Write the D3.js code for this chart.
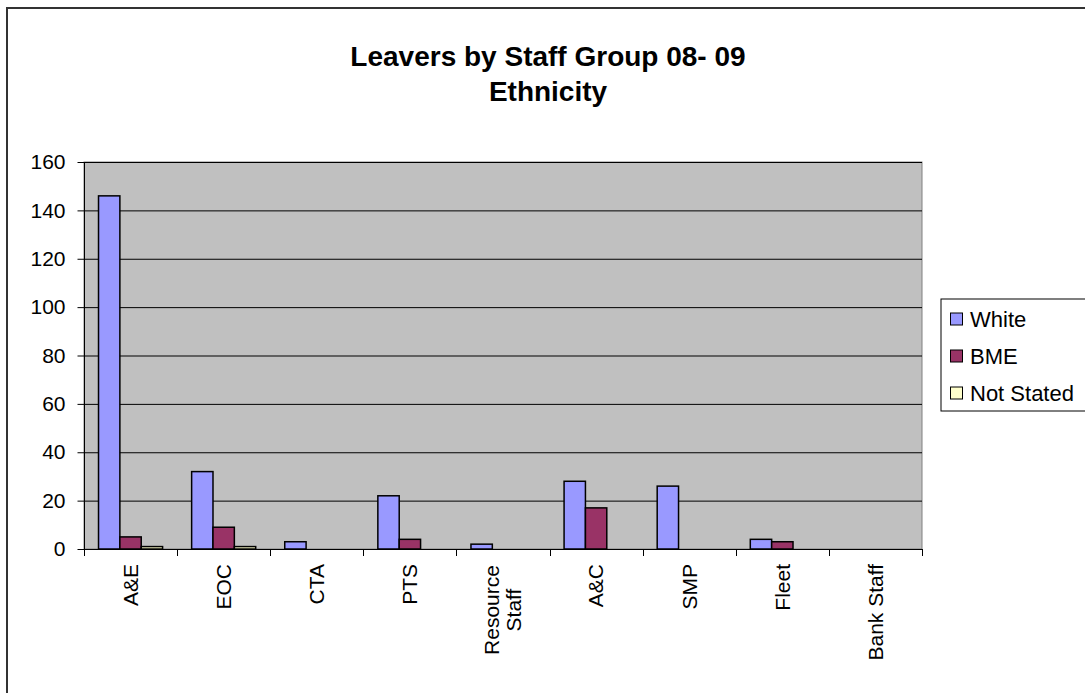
<!DOCTYPE html>
<html>
<head>
<meta charset="utf-8">
<script src="https://cdn.jsdelivr.net/npm/d3@7"></script>
<style>
  body { margin: 0; background: #fff; }
  svg { display: block; font-family: "Liberation Sans", Arial, sans-serif; }
</style>
</head>
<body>
<svg id="chart" width="1085" height="693"></svg>
<script>
// chart data
const categories = ["A&E", "EOC", "CTA", "PTS", "Resource Staff", "A&C", "SMP", "Fleet", "Bank Staff"];
const seriesNames = ["White", "BME", "Not Stated"];
const white = [146, 32, 3, 22, 2, 28, 26, 4, 0];
const bme = [5, 9, 0, 4, 0, 17, 0, 3, 0];
const notStated = [1, 1, 0, 0, 0, 0, 0, 0, 0];
const colors = ["#9999FF", "#993366", "#FFFFCC"];
const yTicks = [0, 20, 40, 60, 80, 100, 120, 140, 160];

const svg = d3.select("#chart");

// outer chart border (runs off the right/bottom edge)
svg.append("rect")
    .attr("x", 7).attr("y", 8)
    .attr("width", 1100).attr("height", 700)
    .attr("fill", "#fff")
    .attr("stroke", "#333").attr("stroke-width", 2);

// title
svg.append("text")
    .attr("x", 548).attr("y", 66)
    .attr("text-anchor", "middle")
    .attr("font-weight", "bold").attr("font-size", 28)
    .text("Leavers by Staff Group 08- 09");
svg.append("text")
    .attr("x", 548).attr("y", 101)
    .attr("text-anchor", "middle")
    .attr("font-weight", "bold").attr("font-size", 28)
    .text("Ethnicity");

// plot area
const plotL = 84, plotR = 922, plotT = 162, plotB = 549;

const x0 = d3.scaleBand().domain(categories).range([plotL, plotR]);
const x1 = d3.scaleBand().domain(seriesNames)
    .range([0, x0.bandwidth()])
    .paddingOuter(0.68);
const y = d3.scaleLinear().domain([0, 160]).range([plotB, plotT]);

svg.append("rect")
    .attr("x", plotL).attr("y", plotT)
    .attr("width", plotR - plotL).attr("height", plotB - plotT)
    .attr("fill", "#C0C0C0")
    .attr("stroke", "#808080");

// gridlines
svg.append("g")
    .selectAll("line")
    .data(yTicks.filter(d => d > 0))
    .join("line")
    .attr("x1", plotL).attr("x2", plotR)
    .attr("y1", d => y(d) + 0.5).attr("y2", d => y(d) + 0.5)
    .attr("stroke", "#000");

// bars
const rows = categories.map((c, i) => ({
    cat: c,
    vals: [white[i], bme[i], notStated[i]]
}));

const groups = svg.append("g")
    .selectAll("g")
    .data(rows)
    .join("g")
    .attr("transform", d => `translate(${x0(d.cat)},0)`);

groups.selectAll("rect")
    .data(d => d.vals.map((v, k) => ({ name: seriesNames[k], v: v, k: k })).filter(e => e.v > 0))
    .join("rect")
    .attr("x", d => x1(d.name))
    .attr("width", x1.bandwidth())
    .attr("y", d => y(d.v))
    .attr("height", d => y(0) - y(d.v))
    .attr("fill", d => colors[d.k])
    .attr("stroke", "#000")
    .attr("stroke-width", 1.5);

// y axis
const yAxis = d3.axisLeft(y).tickValues(yTicks).tickSize(7).tickPadding(12);
const yg = svg.append("g")
    .attr("transform", `translate(${plotL + 0.5},0)`)
    .call(yAxis);
yg.selectAll("text").attr("font-size", 21).attr("fill", "#000").attr("font-family", null);
yg.selectAll("line").attr("stroke", "#000");
yg.select(".domain").attr("stroke", "#000").attr("d", `M0,${plotT}V${plotB}`);

// x axis: ticks on category boundaries
const xg = svg.append("g");
xg.append("line")
    .attr("x1", plotL).attr("x2", plotR)
    .attr("y1", plotB + 0.5).attr("y2", plotB + 0.5)
    .attr("stroke", "#000");
xg.selectAll("line.tick")
    .data(categories.concat(["end"]))
    .join("line")
    .attr("class", "tick")
    .attr("x1", (d, i) => Math.round(plotL + i * x0.step()) + 0.5)
    .attr("x2", (d, i) => Math.round(plotL + i * x0.step()) + 0.5)
    .attr("y1", plotB).attr("y2", plotB + 7)
    .attr("stroke", "#000");

// rotated category labels
const labelLines = {
    "Resource Staff": ["Resource", "Staff"]
};
categories.forEach(c => {
    const cx = x0(c) + x0.bandwidth() / 2;
    const lines = labelLines[c] || [c];
    const t = svg.append("text")
        .attr("transform", `translate(${cx},564) rotate(-90)`)
        .attr("text-anchor", lines.length > 1 ? "middle" : "end")
        .attr("font-size", 21);
    if (lines.length > 1) {
        lines.forEach((ln, j) => {
            t.append("tspan")
                .attr("x", -46)
                .attr("dy", j === 0 ? -4 : 22)
                .text(ln);
        });
    } else {
        t.attr("dy", "0.35em").text(c);
    }
});

// legend
const lg = svg.append("g").attr("transform", "translate(941,299)");
lg.append("rect")
    .attr("width", 160).attr("height", 112)
    .attr("fill", "#fff").attr("stroke", "#000");
const items = lg.selectAll("g")
    .data(seriesNames)
    .join("g")
    .attr("transform", (d, i) => `translate(9,${20 + i * 37})`);
items.append("rect")
    .attr("x", 0.5).attr("y", -6)
    .attr("width", 12).attr("height", 12)
    .attr("fill", (d, i) => colors[i])
    .attr("stroke", "#000");
items.append("text")
    .attr("x", 20).attr("dy", "0.35em")
    .attr("font-size", 22)
    .text(d => d);
</script>
</body>
</html>
